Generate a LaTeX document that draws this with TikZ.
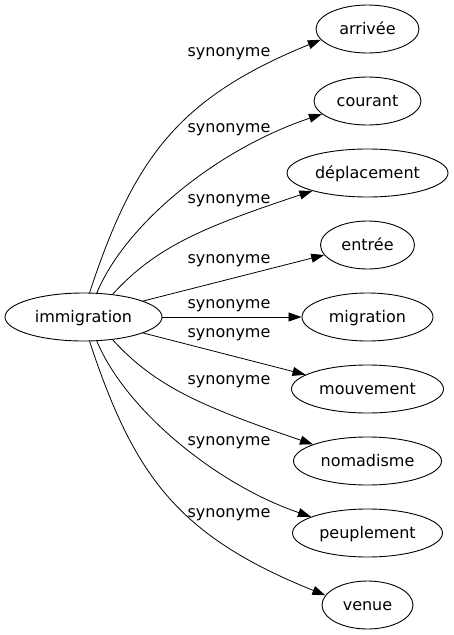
\documentclass[tikz,border=0pt]{standalone}
\usepackage{fontspec}
\setmainfont{DejaVu Sans}
\usetikzlibrary{shapes.geometric,arrows.meta}

\begin{document}
\begin{tikzpicture}[x=1pt,y=1pt,
    word/.style={draw,ellipse,line width=0.9pt,inner sep=0pt,minimum height=48pt,
        font=\fontsize{16}{19}\selectfont,text height=11pt,text depth=0pt},
    syn/.style={inner sep=0pt,font=\fontsize{16}{19}\selectfont},
    edge/.style={line width=0.8pt,-{Triangle[length=13pt,width=9pt]}}]
    \useasboundingbox (0,0) rectangle (453,-635);

    \node[word,minimum width=157pt] (imm) at (83.5,-317) {immigration};

    \foreach \name/\txt/\w [count=\i from 0] in {arr/arrivée/103,cou/courant/107,dep/déplacement/161,ent/entrée/94,mig/migration/131,mou/mouvement/152,nom/nomadisme/148,peu/peuplement/150,ven/venue/91} {
        \node[word,minimum width=\w pt] (\name) at (367.5,-29-72*\i) {\txt};
    }

    \foreach \y [count=\i] in {54,129.5,200.5,261,306,334.5,382,442.5,514.5} {
        \node[syn] (s\i) at (229,-\y) {synonyme};
    }

    \draw[edge] (imm.76) .. controls (134,-158) and (178,-98) .. (arr.193);
    \draw[edge] (imm.61) .. controls (125,-225) and (215,-150) .. (cou.196);
    \draw[edge] (imm.38) .. controls (155,-248) and (200,-228) .. (dep.198);
    \draw[edge] (imm.15) -- (ent.193);
    \draw[edge] (imm.east) -- (mig.west);
    \draw[edge] (imm.345) -- (mou.167);
    \draw[edge] (imm.322) .. controls (155,-386) and (200,-406) .. (nom.163);
    \draw[edge] (imm.299) .. controls (125,-409) and (215,-484) .. (peu.164);
    \draw[edge] (imm.284) .. controls (134,-476) and (178,-536) .. (ven.167);
\end{tikzpicture}
\end{document}
